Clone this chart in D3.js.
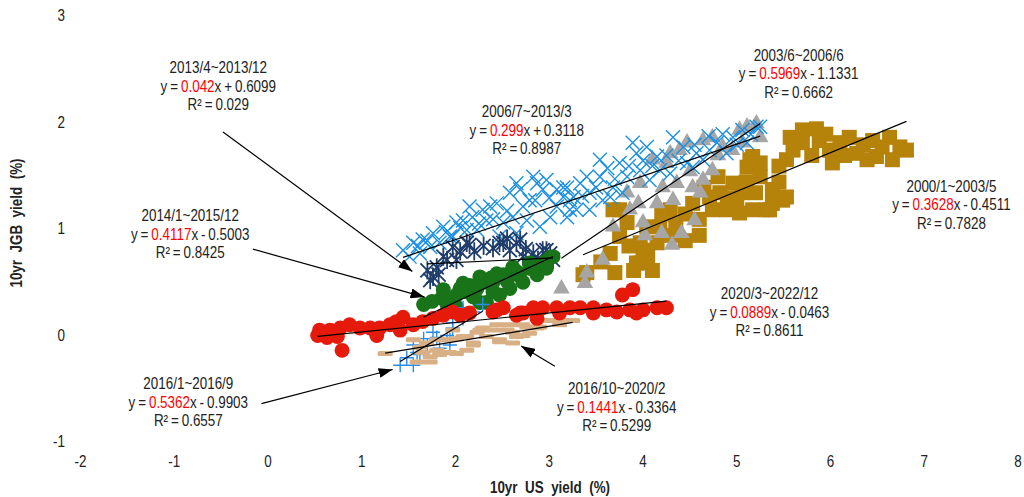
<!DOCTYPE html>
<html>

<head>
    <meta charset="UTF-8">
    <title>10yr US yield vs 10yr JGB yield</title>
    <script src="https://d3js.org/d3.v7.min.js"></script>
    <style>
        body {
            margin: 0;
            background: white;
        }

        text {
            font-family: "Liberation Sans Narrow", "Arial Narrow", "Liberation Sans", sans-serif;
            fill: #222;
        }

        .tick {
            font-size: 16px;
        }

        .title {
            font-size: 16px;
            font-weight: bold;
            white-space: pre;
        }

        .note {
            font-size: 16px;
            text-anchor: middle;
            dominant-baseline: middle;
            word-spacing: -1px;
        }

        .fit {
            fill: none;
            stroke: black;
            stroke-width: 1.2;
        }

        .arrow {
            stroke: black;
            stroke-width: 1.2;
        }
    </style>
</head>

<body>
    <script>
        // series: [US 10yr, JGB 10yr] pairs
        var gold2000 = [[3.40, 0.60], [3.70, 0.60], [3.65, 0.78], [3.97, 0.69], [3.97, 0.88], [3.83, 1.07], [3.68, 1.19], [4.18, 1.03],
        [4.15, 0.88], [4.29, 1.19], [4.53, 1.25], [4.74, 1.19], [4.82, 1.35], [4.96, 1.44], [5.11, 1.59], [5.17, 1.69], [4.89, 1.19],
        [5.14, 1.66], [5.25, 1.50], [5.38, 1.38], [5.49, 1.28], [5.32, 1.19], [5.17, 1.19], [5.70, 1.94], [5.70, 1.82], [5.53, 1.66],
        [5.88, 1.84], [5.99, 1.75], [6.02, 1.63], [6.20, 1.87], [6.28, 1.72], [6.45, 1.84], [6.49, 1.69], [6.63, 1.87], [6.74, 1.78],
        [6.81, 1.75], [6.66, 1.66], [6.39, 1.66], [6.10, 1.82], [3.75, 1.19], [4.04, 1.03], [4.10, 0.62], [3.36, 0.58], [3.93, 0.69],
        [5.03, 1.16], [5.38, 1.25], [5.53, 1.31], [5.35, 1.19], [4.71, 1.31], [4.90, 1.30], [5.25, 1.63], [5.05, 1.35], [4.60, 1.10],
        [4.45, 1.15], [4.00, 0.81], [3.90, 0.62], [3.75, 0.94], [5.57, 1.87], [5.45, 1.60], [4.30, 0.95], [4.45, 0.90], [4.60, 0.95],
        [4.35, 1.05], [4.20, 1.15], [3.85, 0.85], [4.05, 0.75], [5.00, 1.25], [5.20, 1.35], [5.10, 1.45], [5.45, 1.45], [5.60, 1.75],
        [5.80, 1.70], [5.95, 1.90], [6.15, 1.70], [6.35, 1.80], [6.55, 1.78], [5.85, 1.95], [3.55, 0.70], [4.80, 1.50], [4.65, 1.40]];
        var grey2003 = [[3.40, 0.60], [3.57, 0.72], [3.68, 1.03], [4.02, 0.95], [4.20, 0.97], [4.31, 0.86], [4.41, 0.97], [4.55, 1.09],
        [3.86, 1.19], [4.15, 1.25], [4.32, 1.28], [4.21, 1.40], [4.36, 1.44], [4.53, 1.40], [4.64, 1.47], [4.25, 1.63], [4.29, 1.72],
        [4.47, 1.82], [4.39, 1.75], [4.64, 1.84], [4.74, 1.87], [4.85, 1.78], [5.03, 1.94], [5.11, 1.97], [5.21, 2.00], [5.25, 1.87],
        [5.06, 1.82], [4.74, 1.56], [4.61, 1.35], [4.00, 1.07], [3.83, 1.35], [3.97, 1.44], [4.10, 1.66], [3.13, 0.45], [3.38, 0.50],
        [4.80, 1.70], [4.95, 1.75], [4.50, 1.55], [3.95, 1.25]];
        var blue2006 = [[1.44, 0.81], [1.55, 0.88], [1.65, 0.91], [1.76, 0.97], [1.87, 1.03], [2.01, 1.07], [1.94, 0.94], [2.15, 1.22],
        [2.37, 1.22], [2.18, 1.12], [2.33, 1.09], [2.51, 1.07], [2.61, 1.12], [2.58, 1.35], [2.69, 1.38], [2.79, 1.28], [2.87, 1.44],
        [2.97, 1.47], [3.08, 1.38], [3.19, 1.40], [3.26, 1.31], [2.47, 0.94], [2.65, 0.97], [2.76, 1.09], [2.90, 1.03], [3.01, 1.12],
        [1.51, 0.75], [1.62, 0.78], [1.73, 0.84], [1.83, 0.88], [1.97, 0.94], [2.12, 1.00], [2.23, 1.00], [2.08, 1.09], [2.29, 1.19],
        [2.44, 1.25], [2.65, 1.44], [2.83, 1.50], [2.93, 1.38], [3.15, 1.31], [3.08, 1.22], [3.22, 1.19], [3.15, 1.40], [3.22, 1.28],
        [3.33, 1.44], [3.43, 1.35], [3.54, 1.50], [3.68, 1.40], [3.83, 1.50], [3.97, 1.56], [3.75, 1.63], [3.93, 1.72], [3.89, 1.82],
        [4.04, 1.78], [4.18, 1.56], [4.32, 1.87], [4.47, 1.63], [4.57, 1.72], [4.64, 1.66], [4.79, 1.82], [4.89, 1.72], [4.96, 1.87],
        [5.06, 1.94], [5.11, 1.82], [5.21, 1.97], [3.57, 1.28], [3.43, 1.19], [3.19, 1.12], [3.29, 1.19], [3.65, 1.31], [4.07, 1.47],
        [4.29, 1.53], [4.53, 1.59], [4.71, 1.75], [4.15, 1.69], [4.43, 1.78], [3.78, 1.35], [3.54, 1.66], [5.25, 1.97], [1.60, 0.85],
        [1.70, 0.90], [1.90, 0.98], [2.05, 1.02], [2.25, 1.06], [2.40, 1.10], [2.55, 1.18], [2.72, 1.22], [2.85, 1.28], [3.00, 1.30],
        [3.35, 1.32], [3.50, 1.40], [3.70, 1.48], [3.85, 1.60], [4.00, 1.65], [4.10, 1.60], [4.25, 1.70], [4.38, 1.65], [4.55, 1.80],
        [4.70, 1.88], [4.85, 1.90], [5.00, 1.80], [5.15, 1.90], [3.62, 1.58], [3.40, 1.50]];
        var navy2013 = [[1.70, 0.62], [1.76, 0.56], [1.87, 0.75], [1.97, 0.84], [2.15, 0.86], [2.01, 0.72], [2.51, 0.88], [2.58, 0.81],
        [2.65, 0.88], [2.72, 0.75], [2.83, 0.78], [2.93, 0.81], [3.01, 0.78], [1.91, 0.72], [2.12, 0.88], [2.47, 0.88], [2.69, 0.91],
        [2.97, 0.81], [3.04, 0.72], [1.73, 0.53], [2.20, 0.80], [2.40, 0.83], [1.80, 0.65], [2.05, 0.80], [2.30, 0.85], [2.55, 0.92],
        [2.75, 0.82], [2.88, 0.72], [1.82, 0.58]];
        var green2014 = [[1.66, 0.30], [1.85, 0.36], [1.91, 0.30], [2.01, 0.39], [2.12, 0.42], [2.23, 0.45], [2.33, 0.51], [2.26, 0.32],
        [2.40, 0.51], [2.51, 0.58], [2.65, 0.61], [2.79, 0.64], [2.90, 0.67], [3.01, 0.74], [2.33, 0.32], [2.47, 0.39], [2.58, 0.45],
        [2.72, 0.51], [2.87, 0.58], [2.97, 0.64], [1.87, 0.44], [2.08, 0.50], [2.26, 0.56], [2.44, 0.59], [2.61, 0.65], [2.79, 0.69],
        [3.04, 0.75], [1.97, 0.34], [2.19, 0.37], [2.01, 0.28], [1.75, 0.33], [2.05, 0.45], [2.15, 0.48], [2.38, 0.55], [2.55, 0.52],
        [2.68, 0.57], [2.83, 0.63], [2.95, 0.70], [2.40, 0.42], [2.20, 0.40]];
        var plus2016 = [[1.41, -0.27], [1.48, -0.20], [1.59, -0.15], [1.70, -0.08], [1.66, -0.02], [1.80, -0.01], [1.91, 0.01], [1.97, 0.08],
        [1.83, -0.11], [1.94, -0.08], [1.55, -0.08], [1.62, -0.17], [2.08, 0.27], [2.19, 0.23], [2.29, 0.30], [1.55, -0.27], [1.76, 0.04],
        [2.08, 0.17], [1.97, 0.13], [1.94, -0.03]];
        var tan2016 = [[1.25, -0.16], [1.55, -0.03], [1.62, -0.10], [1.59, -0.24], [1.73, -0.19], [1.80, -0.13], [1.91, -0.03], [1.97, 0.06],
        [2.01, -0.16], [2.12, -0.13], [2.08, 0.00], [2.19, -0.06], [2.26, 0.06], [2.40, 0.06], [2.47, -0.03], [2.55, 0.06], [2.65, 0.00],
        [2.76, 0.09], [2.90, 0.09], [2.97, 0.15], [3.11, 0.15], [3.25, 0.15], [2.79, 0.03], [2.61, -0.06], [2.33, 0.00], [1.80, -0.03],
        [1.69, -0.06], [1.65, -0.15], [1.73, -0.24], [1.83, -0.17], [1.94, -0.15], [2.01, -0.02], [2.12, 0.00], [2.19, -0.08], [2.23, 0.04],
        [2.29, 0.08], [2.47, -0.05], [2.61, 0.04], [2.72, 0.01], [2.87, 0.08], [3.11, 0.11], [2.44, 0.11], [2.58, 0.11], [2.72, 0.11]];
        var red2020 = [[0.53, 0.01], [0.66, 0.06], [0.77, 0.08], [0.87, 0.11], [0.98, 0.08], [1.09, 0.08], [1.19, 0.08], [1.30, 0.11],
        [1.37, 0.14], [1.44, 0.18], [1.55, 0.11], [1.65, 0.14], [1.76, 0.17], [1.87, 0.20], [1.97, 0.23], [2.05, 0.20], [2.15, 0.22],
        [0.79, -0.13], [0.63, -0.01], [0.74, 0.00], [0.55, 0.06], [1.16, 0.01], [1.41, 0.06], [2.40, 0.23], [2.51, 0.27], [2.72, 0.22],
        [2.83, 0.27], [2.93, 0.27], [3.08, 0.27], [3.22, 0.27], [3.33, 0.27], [3.47, 0.27], [3.61, 0.25], [3.72, 0.23], [3.86, 0.25],
        [4.00, 0.25], [4.15, 0.27], [4.25, 0.27], [3.78, 0.39], [3.89, 0.44], [2.87, 0.17], [2.65, 0.20], [3.11, 0.22], [3.47, 0.22],
        [3.93, 0.22], [2.44, 0.25], [2.69, 0.22]];

        // trend lines and their labels
        var periods = ["2000/1~2003/5", "2003/6~2006/6", "2006/7~2013/3", "2013/4~2013/12", "2014/1~2015/12", "2016/1~2016/9", "2016/10~2020/2", "2020/3~2022/12"];
        var slopes = ["0.3628", "0.5969", "0.299", "0.042", "0.4117", "0.5362", "0.1441", "0.0889"];
        var intercepts = ["-0.4511", "-1.1331", "0.3118", "0.6099", "-0.5003", "-0.9903", "-0.3364", "-0.0463"];
        var rSquared = ["0.7828", "0.6662", "0.8987", "0.029", "0.8425", "0.6557", "0.5299", "0.8611"];

        var xTicks = [-2, -1, 0, 1, 2, 3, 4, 5, 6, 7, 8];
        var yTicks = [-1, 0, 1, 2, 3];

        var series = [
            { data: gold2000, shape: "square", color: "#b5820a" },
            { data: grey2003, shape: "triangle", color: "#a6a6a6" },
            { data: blue2006, shape: "cross", color: "#1a8fe3" },
            { data: navy2013, shape: "star", color: "#1f3d6b" },
            { data: green2014, shape: "circle", color: "#197319" },
            { data: plus2016, shape: "plus", color: "#2b8ce8" },
            { data: tan2016, shape: "dash", color: "#d9b086" },
            { data: red2020, shape: "circle", color: "#e61a0a" }
        ];

        // where each label block sits (data units, centre of first line)
        var labelAt = [[7.29, 1.40], [5.66, 2.63], [2.76, 2.10], [-0.53, 2.51], [-0.83, 1.12], [-0.85, -0.455], [3.72, -0.50], [5.35, 0.39]];
        var arrows = [
            [[-0.48, 1.92], [1.54, 0.61]],
            [[-0.16, 0.82], [1.67, 0.37]],
            [[-0.07, -0.63], [1.33, -0.31]],
            [[3.06, -0.28], [2.70, -0.09]]
        ];

        var width = 1024, height = 497;
        var narrow = 0.84; // squeeze text to look like a condensed face
        var svg = d3.select("body").append("svg")
            .attr("width", width).attr("height", height);

        var x = d3.scaleLinear().domain([-2, 8]).range([80.5, 1018]);
        var y = d3.scaleLinear().domain([-1, 3]).range([443, 17]);

        svg.append("defs").append("marker")
            .attr("id", "head")
            .attr("viewBox", "0 0 14 10")
            .attr("refX", 14).attr("refY", 5)
            .attr("markerWidth", 14).attr("markerHeight", 10)
            .attr("markerUnits", "userSpaceOnUse")
            .attr("orient", "auto")
            .append("path").attr("d", "M0,0 L14,5 L0,10 Z").attr("fill", "black");

        function squeezed(px, py) {
            return "translate(" + px + "," + py + ") scale(" + narrow + ",1)";
        }

        // tick labels
        svg.append("g").selectAll("text").data(xTicks).enter().append("text")
            .attr("class", "tick")
            .attr("transform", function (d) { return squeezed(x(d), 463); })
            .attr("text-anchor", "middle")
            .attr("dominant-baseline", "middle")
            .text(function (d) { return d; });

        svg.append("g").selectAll("text").data(yTicks).enter().append("text")
            .attr("class", "tick")
            .attr("transform", function (d) { return squeezed(65, y(d)); })
            .attr("text-anchor", "end")
            .attr("dominant-baseline", "middle")
            .text(function (d) { return d; });

        svg.append("text").attr("class", "title")
            .attr("transform", squeezed(550, 489))
            .attr("text-anchor", "middle").attr("dominant-baseline", "middle")
            .text("10yr  US  yield  (%)");

        svg.append("text").attr("class", "title")
            .attr("transform", "translate(18,223) rotate(-90) scale(" + narrow + ",1)")
            .attr("text-anchor", "middle").attr("dominant-baseline", "middle")
            .text("10yr  JGB  yield  (%)");

        function drawMarker(sel, shape, color) {
            if (shape === "circle" || shape === "square" || shape === "triangle") {
                var sym = { circle: d3.symbol().type(d3.symbolCircle).size(175),
                    square: d3.symbol().type(d3.symbolSquare).size(225),
                    triangle: d3.symbol().type(d3.symbolTriangle).size(120) }[shape];
                sel.append("path").attr("d", sym()).attr("fill", color);
            } else if (shape === "dash") {
                sel.append("rect").attr("x", -7.5).attr("y", -2.5).attr("width", 15).attr("height", 5)
                    .attr("rx", 1.5).attr("fill", color);
            } else {
                var s = 7, p = "";
                if (shape === "cross" || shape === "star") p += "M" + -s + "," + -s + "L" + s + "," + s + "M" + -s + "," + s + "L" + s + "," + -s;
                if (shape === "plus") p += "M" + -s + ",0L" + s + ",0M0," + -s + "L0," + s;
                if (shape === "star") p += "M0," + -s * 1.3 + "L0," + s * 1.3;
                sel.append("path").attr("d", p).attr("fill", "none").attr("stroke", color)
                    .attr("stroke-width", shape === "star" ? 1.8 : 1.4);
            }
        }

        series.forEach(function (s) {
            var g = svg.append("g");
            g.selectAll("g").data(s.data).enter().append("g")
                .attr("transform", function (d) { return "translate(" + x(d[0]) + "," + y(d[1]) + ")"; })
                .each(function () { drawMarker(d3.select(this), s.shape, s.color); });
        });

        // linear trend lines over each series' x range
        series.forEach(function (s, i) {
            var ext = d3.extent(s.data, function (d) { return d[0]; });
            var a = +slopes[i], b = +intercepts[i];
            svg.append("line").attr("class", "fit")
                .attr("x1", x(ext[0])).attr("y1", y(a * ext[0] + b))
                .attr("x2", x(ext[1])).attr("y2", y(a * ext[1] + b));
        });

        svg.append("g").selectAll("line").data(arrows).enter().append("line")
            .attr("class", "arrow")
            .attr("x1", function (d) { return x(d[0][0]); })
            .attr("y1", function (d) { return y(d[0][1]); })
            .attr("x2", function (d) { return x(d[1][0]); })
            .attr("y2", function (d) { return y(d[1][1]); })
            .attr("marker-end", "url(#head)");

        periods.forEach(function (p, i) {
            var cx = x(labelAt[i][0]), cy = y(labelAt[i][1]);
            var b = intercepts[i];
            svg.append("text").attr("class", "note").attr("transform", squeezed(cx, cy)).text(p);
            var eq = svg.append("text").attr("class", "note").attr("transform", squeezed(cx, cy + 18.5));
            eq.append("tspan").text("y = ");
            eq.append("tspan").style("fill", "#ff0000").text(slopes[i]);
            eq.append("tspan").text("x " + (b.charAt(0) === "-" ? "- " + b.slice(1) : "+ " + b));
            svg.append("text").attr("class", "note").attr("transform", squeezed(cx, cy + 37)).text("R\u00b2 = " + rSquared[i]);
        });
    </script>
</body>

</html>
